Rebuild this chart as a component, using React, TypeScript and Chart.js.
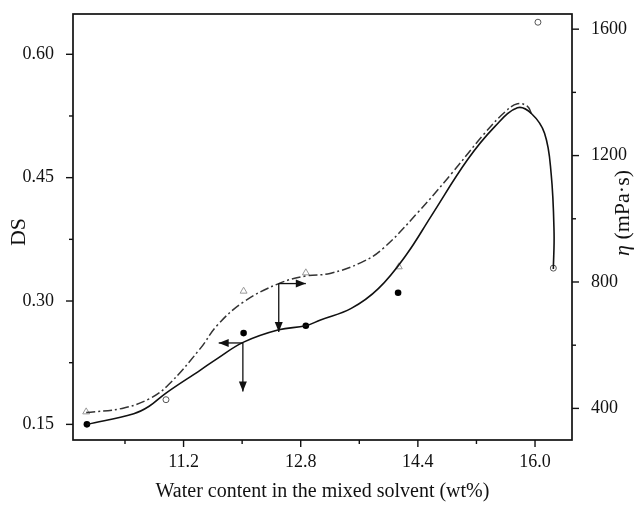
import React, { useEffect, useRef } from "react";
import { Chart, registerables } from "chart.js";

Chart.register(...registerables);

const FONT = "'Liberation Serif', 'Times New Roman', serif";

// Axis ticks and labels
const xTicks = [10.4, 11.2, 12.0, 12.8, 13.6, 14.4, 15.2, 16.0];
const xTickLabels = ["", "11.2", "", "12.8", "", "14.4", "", "16.0"];
const dsTicks = [0.15, 0.225, 0.3, 0.375, 0.45, 0.525, 0.6];
const dsTickLabels = ["0.15", "", "0.30", "", "0.45", "", "0.60"];
const etaTicks = [400, 600, 800, 1000, 1200, 1400, 1600];
const etaTickLabels = ["400", "", "800", "", "1200", "", "1600"];

// Measured points
const dsFilledX = [9.88, 12.02, 12.87, 14.13];
const dsFilledY = [0.15, 0.261, 0.27, 0.31];
const dsOpenX = [10.96, 16.04, 16.25];
const dsOpenY = [0.18, 0.639, 0.34];
const etaTriX = [9.87, 12.02, 12.87, 14.14];
const etaTriY = [389, 771, 829, 848];

// Fitted curves
const dsCurveX = [9.88, 10.52, 10.73, 10.96, 11.43, 11.66, 12.02, 12.5, 12.87, 13.07, 13.49, 13.86, 14.24, 14.58, 15.08, 15.45, 15.76, 15.95, 16.13, 16.22, 16.26, 16.25];
const dsCurveY = [0.15, 0.163, 0.172, 0.188, 0.216, 0.23, 0.25, 0.265, 0.27, 0.277, 0.291, 0.315, 0.356, 0.403, 0.472, 0.512, 0.535, 0.528, 0.504, 0.455, 0.383, 0.339];
const etaCurveX = [9.87, 10.36, 10.73, 10.99, 11.43, 11.66, 12.02, 12.5, 12.87, 13.2, 13.63, 13.92, 14.4, 14.86, 15.31, 15.59, 15.76, 15.9, 15.95];
const etaCurveY = [387, 400, 430, 474, 590, 663, 737, 795, 819, 827, 862, 905, 1020, 1143, 1270, 1338, 1364, 1355, 1333];

// Arrow annotations (data coordinates): [x, y, horizontal target x, vertical target y]
const dsArrow = [12.01, 0.249, 11.68, 0.19];
const etaArrow = [12.5, 795, 12.87, 642];

const toPts = (xs: number[], ys: number[]) => xs.map((x, i) => ({ x, y: ys[i] }));

const labelFor = (ticks: number[], labels: string[], v: number) => {
  const i = ticks.findIndex((t) => Math.abs(t - v) < 1e-6);
  return i >= 0 ? labels[i] : "";
};

const decorPlugin = {
  id: "decor",
  afterDraw(chart: any) {
    const { ctx, chartArea: a, scales } = chart;
    const sx = scales.x, sy = scales.y, sy1 = scales.y1;
    ctx.save();
    ctx.strokeStyle = "#111";
    ctx.fillStyle = "#111";
    ctx.lineWidth = 1.7;
    ctx.strokeRect(a.left, a.top, a.right - a.left, a.bottom - a.top);
    const seg = (x1: number, y1: number, x2: number, y2: number) => {
      ctx.beginPath();
      ctx.moveTo(x1, y1);
      ctx.lineTo(x2, y2);
      ctx.stroke();
    };
    ctx.lineWidth = 1.4;
    xTicks.forEach((v, i) => {
      const p = sx.getPixelForValue(v);
      seg(p, a.bottom, p, a.bottom + (xTickLabels[i] ? 7 : 4));
    });
    dsTicks.forEach((v, i) => {
      const p = sy.getPixelForValue(v);
      seg(a.left, p, a.left - (dsTickLabels[i] ? 7 : 4), p);
    });
    etaTicks.forEach((v, i) => {
      const p = sy1.getPixelForValue(v);
      seg(a.right, p, a.right + (etaTickLabels[i] ? 7 : 4), p);
    });

    const arrow = (x1: number, y1: number, x2: number, y2: number) => {
      seg(x1, y1, x2, y2);
      const ang = Math.atan2(y2 - y1, x2 - x1);
      const L = 10, W = 4;
      const c = Math.cos(ang), s = Math.sin(ang);
      ctx.beginPath();
      ctx.moveTo(x2, y2);
      ctx.lineTo(x2 - L * c + W * s, y2 - L * s - W * c);
      ctx.lineTo(x2 - L * c - W * s, y2 - L * s + W * c);
      ctx.closePath();
      ctx.fill();
    };
    ctx.lineWidth = 1.3;
    {
      const px = sx.getPixelForValue(dsArrow[0]);
      const py = sy.getPixelForValue(dsArrow[1]);
      arrow(px, py, sx.getPixelForValue(dsArrow[2]), py);
      arrow(px, py, px, sy.getPixelForValue(dsArrow[3]));
    }
    {
      const px = sx.getPixelForValue(etaArrow[0]);
      const py = sy1.getPixelForValue(etaArrow[1]);
      arrow(px, py, sx.getPixelForValue(etaArrow[2]), py);
      arrow(px, py, px, sy1.getPixelForValue(etaArrow[3]));
    }

    // y axis titles
    ctx.fillStyle = "#111";
    ctx.font = `22px ${FONT}`;
    ctx.textAlign = "center";
    ctx.textBaseline = "middle";
    ctx.save();
    ctx.translate(19, 232);
    ctx.rotate(-Math.PI / 2);
    ctx.fillText("DS", 0, 0);
    ctx.restore();

    const italic = `italic 22px ${FONT}`;
    const normal = `22px ${FONT}`;
    ctx.font = italic;
    const w1 = ctx.measureText("η").width;
    ctx.font = normal;
    const w2 = ctx.measureText(" (mPa·s)").width;
    ctx.save();
    ctx.translate(623, 213);
    ctx.rotate(-Math.PI / 2);
    ctx.textAlign = "left";
    ctx.font = italic;
    ctx.fillText("η", -(w1 + w2) / 2, 0);
    ctx.font = normal;
    ctx.fillText(" (mPa·s)", -(w1 + w2) / 2 + w1, 0);
    ctx.restore();
    ctx.restore();
  },
};

export default function App() {
  const ref = useRef<HTMLCanvasElement | null>(null);
  useEffect(() => {
    if (!ref.current) return;
    const tickFont = { family: FONT, size: 18 };
    const noPad = (s: any) => {
      s.paddingTop = 0;
      s.paddingBottom = 0;
      s.paddingLeft = 0;
      s.paddingRight = 0;
    };
    const chart = new Chart(ref.current, {
      type: "scatter",
      data: {
        datasets: [
          {
            label: "DS fit",
            data: toPts(dsCurveX, dsCurveY),
            yAxisID: "y",
            showLine: true,
            borderColor: "#111",
            borderWidth: 1.6,
            pointRadius: 0,
            tension: 0.4,
            fill: false,
          },
          {
            label: "η fit",
            data: toPts(etaCurveX, etaCurveY),
            yAxisID: "y1",
            showLine: true,
            borderColor: "#333",
            borderWidth: 1.5,
            borderDash: [9, 3, 2, 3],
            pointRadius: 0,
            tension: 0.4,
            fill: false,
          },
          {
            label: "DS",
            data: toPts(dsFilledX, dsFilledY),
            yAxisID: "y",
            pointRadius: 3.3,
            pointBackgroundColor: "#000",
            pointBorderColor: "#000",
            pointBorderWidth: 0,
          },
          {
            label: "DS open",
            data: toPts(dsOpenX, dsOpenY),
            yAxisID: "y",
            pointRadius: 3,
            pointBackgroundColor: "#fff",
            pointBorderColor: "#555",
            pointBorderWidth: 1,
          },
          {
            label: "η",
            data: toPts(etaTriX, etaTriY),
            yAxisID: "y1",
            pointStyle: "triangle",
            pointRadius: 4,
            pointBackgroundColor: "rgba(255,255,255,0)",
            pointBorderColor: "#999",
            pointBorderWidth: 1,
          },
        ],
      },
      options: {
        responsive: false,
        animation: false,
        layout: { padding: { top: 14, left: 0, right: 0, bottom: 0 } },
        plugins: { legend: { display: false }, tooltip: { enabled: false } },
        scales: {
          x: {
            type: "linear",
            min: 9.69,
            max: 16.505,
            grid: { display: false },
            border: { display: false },
            afterBuildTicks: (s: any) => {
              s.ticks = xTicks.map((v) => ({ value: v }));
            },
            afterFit: (s: any) => {
              s.height = 75;
              noPad(s);
            },
            ticks: {
              autoSkip: false,
              maxRotation: 0,
              padding: 3,
              color: "#111",
              font: tickFont,
              callback: (v: any) => labelFor(xTicks, xTickLabels, Number(v)),
            },
            title: {
              display: true,
              text: "Water content in the mixed solvent (wt%)",
              color: "#111",
              font: { family: FONT, size: 20 },
              padding: { top: 0, bottom: 11 },
            },
          },
          y: {
            type: "linear",
            position: "left",
            min: 0.131,
            max: 0.649,
            grid: { display: false },
            border: { display: false },
            afterBuildTicks: (s: any) => {
              s.ticks = dsTicks.map((v) => ({ value: v }));
            },
            afterFit: (s: any) => {
              s.width = 73;
              noPad(s);
            },
            ticks: {
              autoSkip: false,
              padding: 11,
              color: "#111",
              font: tickFont,
              callback: (v: any) => labelFor(dsTicks, dsTickLabels, Number(v)),
            },
          },
          y1: {
            type: "linear",
            position: "right",
            min: 300,
            max: 1648,
            grid: { display: false },
            border: { display: false },
            afterBuildTicks: (s: any) => {
              s.ticks = etaTicks.map((v) => ({ value: v }));
            },
            afterFit: (s: any) => {
              s.width = 66;
              noPad(s);
            },
            ticks: {
              autoSkip: false,
              padding: 11,
              color: "#111",
              font: tickFont,
              callback: (v: any) => labelFor(etaTicks, etaTickLabels, Number(v)),
            },
          },
        },
      },
      plugins: [decorPlugin],
    } as any);
    return () => chart.destroy();
  }, []);

  return (
    <div style={{ position: "fixed", left: 0, top: 0, width: 638, height: 515, background: "#fff" }}>
      <canvas ref={ref} width={638} height={515} style={{ display: "block" }} />
    </div>
  );
}
